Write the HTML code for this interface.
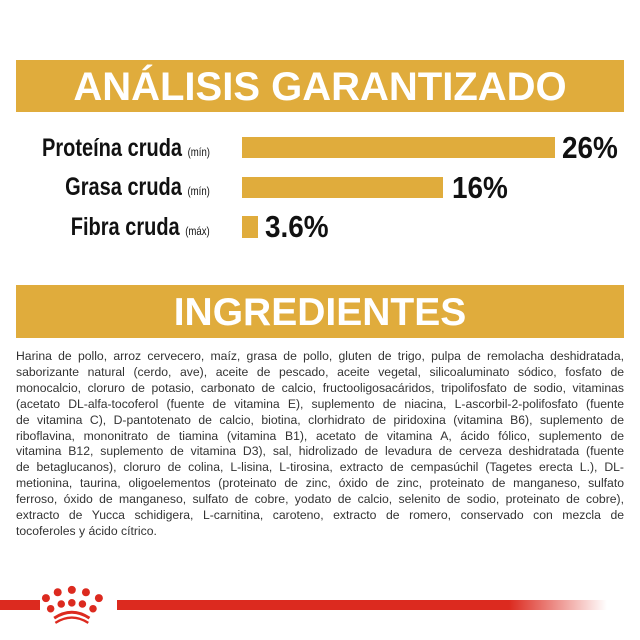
<!DOCTYPE html>
<html><head><meta charset="utf-8"><style>
body{margin:0;width:640px;height:640px;background:#fff;position:relative;overflow:hidden;font-family:"Liberation Sans",sans-serif}
.ban{position:absolute;left:16px;width:608px;background:#e0ac3c;color:#fff;font-weight:bold;text-align:center}
.lab{position:absolute;right:430px;font-size:25px;font-weight:bold;color:#111;transform:scaleX(0.8);transform-origin:right;white-space:nowrap}
.lab small{font-size:12px;font-weight:normal}
.bar{position:absolute;left:242px;background:#e0ac3c}
.val{position:absolute;font-size:31px;font-weight:bold;color:#111;transform:scaleX(0.9);transform-origin:left}
.txt{position:absolute;left:16px;top:349px;width:608px;font-size:12.2px;color:#333;line-height:15.9px}
.txt div{text-align:justify;text-align-last:justify;white-space:nowrap}
.txt div.l{text-align-last:left}
</style></head><body>
<div class="ban" style="top:60px;height:52px;font-size:40px;line-height:54px">ANÁLISIS GARANTIZADO</div>
<div class="lab" style="top:134px">Proteína cruda <small>(mín)</small></div>
<div class="bar" style="top:137px;width:313px;height:21px"></div>
<div class="val" style="left:562px;top:130px">26%</div>
<div class="lab" style="top:173px">Grasa cruda <small>(mín)</small></div>
<div class="bar" style="top:177px;width:201px;height:21px"></div>
<div class="val" style="left:452px;top:170px">16%</div>
<div class="lab" style="top:213px">Fibra cruda <small>(máx)</small></div>
<div class="bar" style="top:216px;width:16px;height:22px"></div>
<div class="val" style="left:265px;top:209px">3.6%</div>
<div class="ban" style="top:285px;height:53px;font-size:39px;line-height:55px">INGREDIENTES</div>
<div class="txt">
<div>Harina de pollo, arroz cervecero, maíz, grasa de pollo, gluten de trigo, pulpa de remolacha deshidratada,</div>
<div>saborizante natural (cerdo, ave), aceite de pescado, aceite vegetal, silicoaluminato sódico, fosfato de</div>
<div>monocalcio, cloruro de potasio, carbonato de calcio, fructooligosacáridos, tripolifosfato de sodio, vitaminas</div>
<div>(acetato DL-alfa-tocoferol (fuente de vitamina E), suplemento de niacina, L-ascorbil-2-polifosfato (fuente</div>
<div>de vitamina C), D-pantotenato de calcio, biotina, clorhidrato de piridoxina (vitamina B6), suplemento de</div>
<div>riboflavina, mononitrato de tiamina (vitamina B1), acetato de vitamina A, ácido fólico, suplemento de</div>
<div>vitamina B12, suplemento de vitamina D3), sal, hidrolizado de levadura de cerveza deshidratada (fuente</div>
<div>de betaglucanos), cloruro de colina, L-lisina, L-tirosina, extracto de cempasúchil (Tagetes erecta L.), DL-</div>
<div>metionina, taurina, oligoelementos (proteinato de zinc, óxido de zinc, proteinato de manganeso, sulfato</div>
<div>ferroso, óxido de manganeso, sulfato de cobre, yodato de calcio, selenito de sodio, proteinato de cobre),</div>
<div>extracto de Yucca schidigera, L-carnitina, caroteno, extracto de romero, conservado con mezcla de</div>
<div class="l">tocoferoles y ácido cítrico.</div>
</div>
<div style="position:absolute;left:0;top:600px;width:40px;height:10px;background:#dc2a1f"></div>
<div style="position:absolute;left:117px;top:600px;width:490px;height:10px;background:linear-gradient(90deg,#dc2a1f 0%,#dc2a1f 80%,rgba(220,42,31,0) 100%)"></div>
<svg style="position:absolute;left:40px;top:584px" width="66" height="40" viewBox="0 0 56 34">
<g fill="#dc2a1f">
<circle cx="5" cy="12" r="3.4"/><circle cx="15" cy="7" r="3.4"/><circle cx="27" cy="5" r="3.4"/><circle cx="39" cy="7" r="3.4"/><circle cx="50" cy="12" r="3.4"/>
<circle cx="9" cy="21" r="3.2"/><circle cx="18" cy="17" r="3.2"/><circle cx="27" cy="16" r="3.2"/><circle cx="36" cy="17" r="3.2"/><circle cx="45" cy="21" r="3.2"/>
</g>
<path d="M12 29 Q27 19 42 29" stroke="#dc2a1f" stroke-width="2.5" fill="none"/>
<path d="M13 33 Q27 24 41 33" stroke="#dc2a1f" stroke-width="2" fill="none"/>
</svg>
</body></html>
